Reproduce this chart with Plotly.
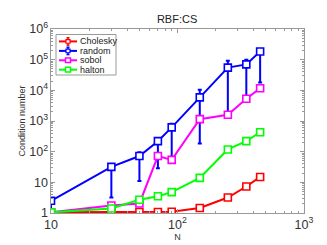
import plotly.graph_objects as go

N = [10, 30, 50, 70, 90, 150, 250, 350, 450]

chol = [1.05, 1.08, 1.08, 1.08, 1.1, 1.45, 3.2, 7.3, 15.0]
chol_up = [0.02, 0.02, 0.02, 0.02, 0.03, 0.08, 0.3, 0.9, 2.0]
chol_lo = [0.02, 0.02, 0.02, 0.02, 0.03, 0.08, 0.3, 0.9, 2.0]

rand = [2.5, 32, 72, 220, 620, 5900, 55000, 70000, 185000]
rand_hi = [2.7, 33, 95, 270, 820, 10500, 93000, 100000, 195000]
rand_low = [1.02, 3.2, 11, 29, 68, 185, 1700, 5600, 18000]

sobol = [1.05, 1.75, 2.05, 72, 54, 1150, 1600, 5300, 11700]
halton = [1.05, 1.4, 2.7, 3.5, 4.8, 14.0, 118, 220, 430]

series_names = ["Cholesky", "random", "sobol", "halton"]
series_colors = ["#ff0000", "#0000ff", "#ff00ff", "#00ff00"]
has_err = [True, True, False, False]

W, H = 327, 245
L, R, T, B = 43, 31, 18, 27
PW, PH = W - L - R, H - T - B

fig = go.Figure()

def mk(color):
    return dict(symbol="square", size=7, color="white", line=dict(color=color, width=1.6))

fig.add_trace(go.Scatter(
    x=N, y=chol, name="Cholesky", mode="lines+markers",
    line=dict(color=series_colors[0], width=2), marker=mk(series_colors[0]),
    error_y=dict(type="data", symmetric=False, array=chol_up, arrayminus=chol_lo,
                 color=series_colors[0], thickness=2, width=2)))

fig.add_trace(go.Scatter(
    x=N, y=rand, name="random", mode="lines+markers",
    line=dict(color=series_colors[1], width=2), marker=mk(series_colors[1]),
    error_y=dict(type="data", symmetric=False,
                 array=[h - v for h, v in zip(rand_hi, rand)],
                 arrayminus=[v - l for v, l in zip(rand, rand_low)],
                 color=series_colors[1], thickness=2, width=2)))

fig.add_trace(go.Scatter(
    x=N, y=sobol, name="sobol", mode="lines+markers",
    line=dict(color=series_colors[2], width=2), marker=mk(series_colors[2])))

fig.add_trace(go.Scatter(
    x=N, y=halton, name="halton", mode="lines+markers",
    line=dict(color=series_colors[3], width=2), marker=mk(series_colors[3])))

axis_common = dict(
    type="log", showgrid=False, zeroline=False,
    showline=True, linecolor="#999999", linewidth=1, mirror="ticks",
    ticks="inside", ticklen=4, tickcolor="#999999",
    exponentformat="power", dtick=1,
    minor=dict(ticks="inside", ticklen=2, tickcolor="#999999"),
    tickfont=dict(family="Liberation Sans, Arial", size=10, color="#333333"),
)

fig.update_xaxes(range=[1, 3], title=dict(text="N", font=dict(size=9, color="#333333"), standoff=3), **axis_common)
fig.update_yaxes(range=[0, 6], title=dict(text="Condition number", font=dict(size=9, color="#333333"), standoff=2), **axis_common)

# manual compact legend (paper coords of plot area)
def px(x):
    return (x - L) / PW

def py(y):
    return (H - B - y) / PH

shapes = []
annotations = []
shapes.append(dict(type="rect", xref="paper", yref="paper",
                   x0=px(48), x1=px(108), y0=py(68), y1=py(24),
                   line=dict(color="#999999", width=1), fillcolor="white", layer="above"))
row_y = [31.5, 41.8, 52.0, 62.2]
for name, color, err, ry in zip(series_names, series_colors, has_err, row_y):
    shapes.append(dict(type="line", xref="paper", yref="paper",
                       x0=px(51), x1=px(69), y0=py(ry), y1=py(ry),
                       line=dict(color=color, width=2), layer="above"))
    if err:
        shapes.append(dict(type="line", xref="paper", yref="paper",
                           x0=px(60), x1=px(60), y0=py(ry - 4), y1=py(ry + 4),
                           line=dict(color=color, width=1.5), layer="above"))
        for cy in (ry - 4, ry + 4):
            shapes.append(dict(type="line", xref="paper", yref="paper",
                               x0=px(58.5), x1=px(61.5), y0=py(cy), y1=py(cy),
                               line=dict(color=color, width=1.5), layer="above"))
        shapes.append(dict(type="rect", xref="paper", yref="paper",
                           x0=px(58), x1=px(62), y0=py(ry + 2), y1=py(ry - 2),
                           line=dict(color=color, width=1.2), fillcolor="white", layer="above"))
    else:
        shapes.append(dict(type="rect", xref="paper", yref="paper",
                           x0=px(57.5), x1=px(62.5), y0=py(ry + 2.5), y1=py(ry - 2.5),
                           line=dict(color=color, width=1.5), fillcolor="white", layer="above"))
    annotations.append(dict(xref="paper", yref="paper", x=px(70.5), y=py(ry),
                            xanchor="left", yanchor="middle", showarrow=False,
                            borderpad=0, text=name, font=dict(size=9, color="#222222")))

fig.update_layout(
    width=W, height=H,
    margin=dict(l=L, r=R, t=T, b=B),
    paper_bgcolor="white", plot_bgcolor="white",
    font=dict(family="Liberation Sans, Arial", size=9, color="#333333"),
    title=dict(text="RBF:CS", x=0.517, xanchor="center", y=0.955, yanchor="middle",
               font=dict(size=11, color="#222222")),
    showlegend=False,
    shapes=shapes,
    annotations=annotations,
)

fig.write_html("out.html")
